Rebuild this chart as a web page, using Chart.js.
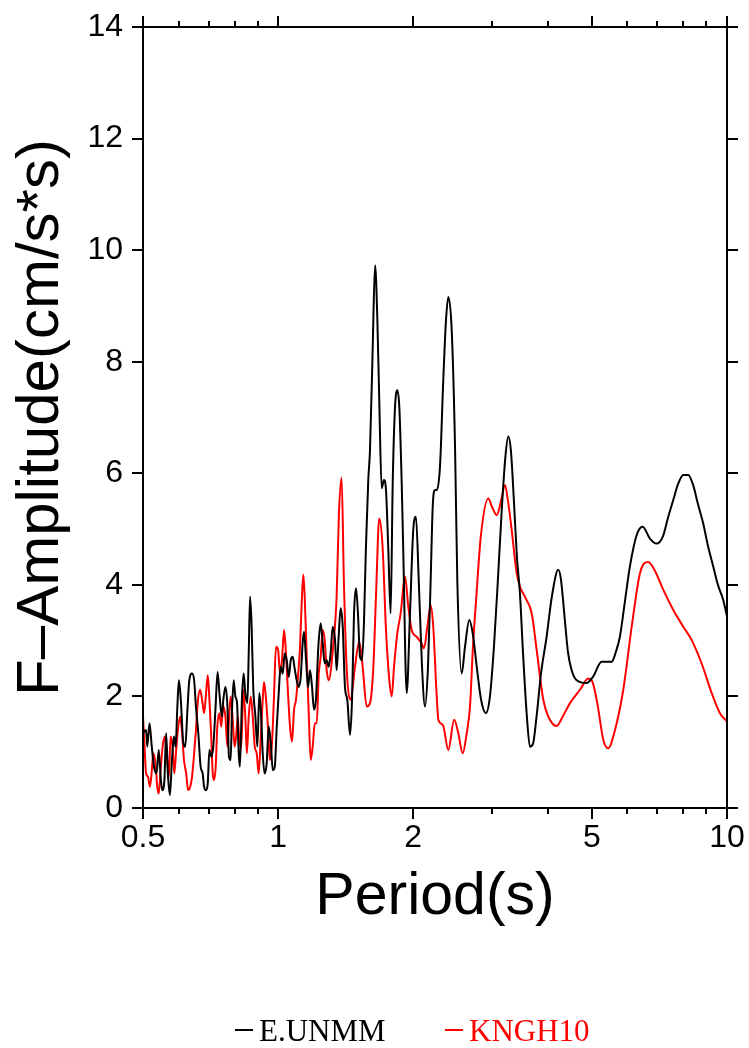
<!DOCTYPE html>
<html>
<head>
<meta charset="utf-8">
<script src="https://cdn.jsdelivr.net/npm/chart.js@4"></script>
<style>
  body { margin: 0; background: #fff; }
  #wrap { position: relative; width: 749px; height: 1048px; }
  #chart { position: absolute; left: 0; top: 0; }
  .leg { position: absolute; top: 1015px; font: 31px/1 "Liberation Serif", serif; white-space: nowrap; }
  .mk { display: inline-block; width: 18px; height: 2px; background: currentColor; vertical-align: 10px; margin-right: 6px; }
</style>
</head>
<body>
<div id="wrap">
  <canvas id="chart" width="749" height="1048"></canvas>
  <span class="leg" style="left:235px;color:#000"><span class="mk"></span>E.UNMM</span>
  <span class="leg" style="left:445px;color:#ff0000"><span class="mk"></span>KNGH10</span>
</div>
<script>
// E.UNMM (black) - period (s) and Fourier amplitude (cm/s*s)
const unmmPeriod = [
  0.500, 0.508, 0.511, 0.517, 0.523, 0.529, 0.536, 0.542, 0.548, 0.552,
  0.558, 0.563, 0.568, 0.574, 0.580, 0.586, 0.591, 0.596, 0.601, 0.607,
  0.615, 0.621, 0.628, 0.634, 0.643, 0.650, 0.656, 0.664, 0.672, 0.679,
  0.684, 0.691, 0.697, 0.703, 0.710, 0.717, 0.725, 0.733, 0.740, 0.749,
  0.755, 0.763, 0.771, 0.777, 0.784, 0.789, 0.796, 0.803, 0.810, 0.817,
  0.822, 0.831, 0.838, 0.845, 0.854, 0.860, 0.866, 0.873, 0.880, 0.890,
  0.899, 0.908, 0.916, 0.924, 0.933, 0.943, 0.953, 0.963, 0.973, 0.983,
  0.993, 1.003, 1.013, 1.024, 1.034, 1.045, 1.056, 1.067, 1.078, 1.087,
  1.100, 1.111, 1.123, 1.134, 1.142, 1.154, 1.166, 1.178, 1.190, 1.202,
  1.214, 1.229, 1.244, 1.257, 1.270, 1.283, 1.296,
  1.309, 1.323, 1.339, 1.350, 1.364, 1.378, 1.393, 1.409, 1.426, 1.446,
  1.461, 1.476, 1.491, 1.506, 1.522, 1.538, 1.553, 1.569, 1.588, 1.602,
  1.624, 1.644, 1.663, 1.680, 1.701, 1.721, 1.739, 1.760, 1.781, 1.800,
  1.821, 1.843, 1.862, 1.885, 1.900, 1.934, 1.967, 2.000, 2.028, 2.057,
  2.092, 2.124, 2.157, 2.187, 2.210, 2.236, 2.256, 2.294, 2.333, 2.366,
  2.394, 2.436, 2.478, 2.507, 2.564, 2.608, 2.666, 2.717, 2.773, 2.831,
  2.904, 2.964, 3.026, 3.088, 3.152, 3.209, 3.256, 3.301, 3.352, 3.404,
  3.457, 3.511, 3.578, 3.639, 3.696, 3.772, 3.850, 3.964, 4.074, 4.208,
  4.266, 4.355, 4.422, 4.507, 4.624, 4.867, 5.027, 5.256, 5.533, 5.656,
  5.773, 5.923, 6.077, 6.290, 6.487, 6.734, 6.970, 7.199, 7.386, 7.590,
  7.775, 7.989, 8.197, 8.397, 8.615, 8.852, 9.068, 9.318, 9.545, 9.808,
  10.0
];
const unmmAmp = [
  1.34, 1.40, 1.10, 1.52, 1.10, 0.74, 0.62, 1.04, 0.50, 0.32,
  0.50, 1.34, 0.62, 0.23, 0.86, 1.28, 1.10, 1.76, 2.29, 1.94,
  1.16, 1.10, 1.76, 2.29, 2.41, 2.29, 1.82, 1.34, 0.74, 0.62,
  0.38, 0.32, 0.44, 1.04, 0.92, 1.10, 1.76, 2.44, 2.06, 1.64,
  1.94, 2.17, 1.82, 0.92, 0.86, 1.70, 2.29, 2.00, 1.88, 0.98,
  0.74, 2.00, 2.41, 2.06, 1.88, 2.77, 3.79, 3.25, 2.17, 1.64,
  1.10, 2.06, 1.70, 0.98, 0.62, 0.80, 1.46, 1.16, 0.68, 0.74,
  1.46, 2.06, 2.53, 2.41, 2.77, 2.65, 2.35, 2.65, 2.71, 2.53,
  2.29, 2.17, 2.35, 2.95, 3.16, 2.65, 2.17, 2.47, 2.17, 1.76,
  1.94, 2.89, 3.31, 2.95, 2.59, 2.65, 2.53,
  2.77, 3.25, 3.01, 2.47, 3.07, 3.58, 3.25, 2.17, 1.94, 1.31,
  1.94, 3.49, 3.94, 3.49, 2.71, 2.65, 3.31, 4.68, 5.88, 6.42,
  8.21, 9.73, 8.81, 7.31, 5.73, 5.88, 5.70, 4.62, 3.49, 5.82,
  7.17, 7.49, 7.19, 5.82, 4.62, 2.06, 3.49, 4.98, 5.22, 4.09,
  2.53, 1.82, 2.53, 4.09, 5.40, 5.70, 5.70, 6.12, 7.67, 8.75,
  9.16, 8.57, 6.48, 4.09, 2.41, 2.89, 3.37, 3.10, 2.50, 1.95,
  1.70, 2.00, 2.90, 4.10, 5.40, 6.30, 6.66, 6.40, 5.50, 4.50,
  3.85, 2.80, 1.70, 1.10, 1.15, 1.70, 2.40, 3.07, 3.80, 4.27,
  4.10, 3.35, 2.80, 2.47, 2.29, 2.24, 2.35, 2.62, 2.62, 2.80,
  3.07, 3.70, 4.33, 4.89, 5.04, 4.83, 4.74, 4.87, 5.20, 5.52,
  5.80, 5.97, 5.97, 5.80, 5.45, 5.10, 4.70, 4.33, 4.00, 3.73,
  3.43
];

// KNGH10 (red)
const knghPeriod = [
  0.500, 0.504, 0.508, 0.513, 0.518, 0.524, 0.527, 0.533, 0.538, 0.542,
  0.548, 0.553, 0.559, 0.565, 0.571, 0.576, 0.582, 0.587, 0.592, 0.598,
  0.605, 0.611, 0.617, 0.624, 0.630, 0.637, 0.643, 0.650, 0.656, 0.663,
  0.670, 0.677, 0.684, 0.691, 0.697, 0.703, 0.709, 0.715, 0.720, 0.726,
  0.732, 0.740, 0.747, 0.755, 0.763, 0.771, 0.777, 0.784, 0.792, 0.800,
  0.806, 0.813, 0.819, 0.828, 0.836, 0.845, 0.852, 0.860, 0.869, 0.878,
  0.887, 0.896, 0.905, 0.915, 0.924, 0.930, 0.940, 0.949, 0.959, 0.969,
  0.979, 0.989, 1.000, 1.010, 1.020, 1.031, 1.041, 1.052, 1.063, 1.074,
  1.085, 1.096, 1.107, 1.119, 1.130, 1.138, 1.146, 1.158, 1.170, 1.182,
  1.194, 1.207, 1.219, 1.232, 1.244, 1.257, 1.270, 1.283, 1.296,
  1.326, 1.350, 1.366, 1.385, 1.401, 1.421, 1.451, 1.483, 1.516, 1.543,
  1.575, 1.602, 1.630, 1.652, 1.680, 1.709, 1.739, 1.769, 1.791, 1.812,
  1.843, 1.875, 1.917, 1.950, 1.984, 2.035, 2.088, 2.113, 2.150, 2.187,
  2.216, 2.256, 2.275, 2.328, 2.394, 2.467, 2.520, 2.577, 2.631, 2.676,
  2.717, 2.759, 2.831, 2.939, 2.995, 3.069, 3.137, 3.202, 3.252, 3.314,
  3.400, 3.457, 3.566, 3.672, 3.767, 3.897, 3.998, 4.174, 4.312, 4.469,
  4.704, 4.909, 5.003, 5.141, 5.302, 5.439, 5.630, 5.874, 6.133, 6.400,
  6.678, 6.912, 7.212, 7.592, 7.991, 8.343, 8.782, 9.245, 9.647, 10.0
];
const knghAmp = [
  1.64, 1.10, 0.62, 0.56, 0.38, 0.74, 0.98, 0.80, 0.38, 0.26,
  0.74, 1.10, 1.28, 0.98, 0.56, 1.28, 1.10, 0.62, 0.98, 1.40,
  1.64, 1.34, 0.86, 0.62, 0.32, 0.38, 0.56, 0.98, 1.40, 1.94,
  2.12, 1.94, 1.70, 2.06, 2.38, 1.94, 1.34, 0.62, 0.50, 0.74,
  1.46, 1.70, 1.46, 1.82, 1.64, 1.10, 1.58, 2.00, 1.58, 1.10,
  1.28, 1.64, 1.22, 1.10, 2.12, 1.64, 0.98, 1.64, 2.00, 1.64,
  1.10, 0.98, 0.62, 1.28, 1.94, 2.26, 1.94, 1.46, 0.86, 1.16,
  2.00, 2.89, 2.83, 2.41, 2.65, 3.19, 2.77, 2.06, 1.46, 1.19,
  1.76, 1.94, 2.35, 2.89, 3.79, 4.18, 3.79, 2.71, 1.70, 0.86,
  1.10, 1.52, 1.52, 2.41, 2.71, 3.19, 3.01, 2.47, 2.29,
  2.89, 3.79, 5.28, 5.92, 4.09, 2.53, 1.94, 2.53, 2.98, 2.53,
  1.82, 1.88, 2.53, 3.79, 5.19, 4.68, 3.19, 2.29, 2.00, 2.53,
  3.13, 3.49, 4.15, 3.61, 3.19, 3.07, 2.95, 2.86, 3.25, 3.64,
  3.25, 2.00, 1.58, 1.49, 1.04, 1.58, 1.34, 0.98, 1.34, 1.82,
  2.90, 3.70, 4.90, 5.55, 5.40, 5.25, 5.50, 5.79, 5.50, 4.98,
  4.21, 3.97, 3.75, 3.49, 2.83, 1.94, 1.64, 1.47, 1.65, 1.88,
  2.12, 2.32, 2.28, 1.88, 1.22, 1.07, 1.40, 2.12, 3.25, 4.21,
  4.41, 4.25, 3.91, 3.55, 3.25, 3.01, 2.59, 2.06, 1.70, 1.55
];

// axis ticks
const xTickValues = [0.5, 0.6, 0.7, 0.8, 0.9, 1, 2, 3, 4, 5, 6, 7, 8, 9, 10];
const xLabelValues = [0.5, 1, 2, 5, 10];
const yTickValues = [0, 2, 4, 6, 8, 10, 12, 14];

const toPoints = (xs, ys) => xs.map((x, i) => ({ x: x, y: ys[i] }));

// frame box with outward ticks on all four sides
const frameTicks = {
  id: 'frameTicks',
  afterDraw(chart) {
    const { ctx, chartArea: a, scales: { x, y } } = chart;
    ctx.save();
    ctx.strokeStyle = '#000';
    ctx.lineWidth = 2;
    ctx.strokeRect(a.left, a.top, a.right - a.left, a.bottom - a.top);
    ctx.beginPath();
    xTickValues.forEach(v => {
      const px = Math.round(x.getPixelForValue(v));
      const len = xLabelValues.includes(v) ? 11 : 6;
      ctx.moveTo(px, a.bottom); ctx.lineTo(px, a.bottom + len);
      ctx.moveTo(px, a.top); ctx.lineTo(px, a.top - len);
    });
    yTickValues.forEach(v => {
      const py = Math.round(y.getPixelForValue(v));
      ctx.moveTo(a.left, py); ctx.lineTo(a.left - 11, py);
      ctx.moveTo(a.right, py); ctx.lineTo(a.right + 11, py);
    });
    ctx.stroke();
    ctx.restore();
  }
};

Chart.defaults.color = '#000';
Chart.defaults.font.family = '"Liberation Sans", Arial, sans-serif';

new Chart(document.getElementById('chart'), {
  type: 'line',
  data: {
    datasets: [
      {
        label: 'E.UNMM',
        data: toPoints(unmmPeriod, unmmAmp),
        borderColor: '#000000',
        borderWidth: 2,
        pointRadius: 0,
        cubicInterpolationMode: 'monotone'
      },
      {
        label: 'KNGH10',
        data: toPoints(knghPeriod, knghAmp),
        borderColor: '#ff0000',
        borderWidth: 2,
        pointRadius: 0,
        cubicInterpolationMode: 'monotone'
      }
    ]
  },
  options: {
    responsive: false,
    animation: false,
    devicePixelRatio: 1,
    layout: { padding: { left: 0, right: 22, top: 27, bottom: 100 } },
    plugins: { legend: { display: false }, tooltip: { enabled: false } },
    scales: {
      x: {
        type: 'logarithmic',
        min: 0.5,
        max: 10,
        grid: { display: false, drawTicks: false },
        border: { display: false },
        afterBuildTicks: (scale) => { scale.ticks = xTickValues.map(v => ({ value: v })); },
        afterFit: (scale) => {
          scale.height = 140;
          // labels may overhang the plot box; keep the layout padding as is
          scale.paddingLeft = 0;
          scale.paddingRight = 0;
        },
        ticks: {
          autoSkip: false,
          maxRotation: 0,
          padding: 11,
          font: { size: 32 },
          callback: (v) => xLabelValues.includes(v) ? String(v) : ''
        },
        title: {
          display: true,
          text: 'Period(s)',
          font: { size: 59, lineHeight: 1 },
          padding: { top: 0, bottom: 21 }
        }
      },
      y: {
        min: 0,
        max: 14,
        grid: { display: false, drawTicks: false },
        border: { display: false },
        afterFit: (scale) => {
          scale.width = 143;
          scale.paddingTop = 0;
          scale.paddingBottom = 0;
        },
        ticks: { stepSize: 2, padding: 20, font: { size: 32 } },
        title: {
          display: true,
          text: 'F\u2013Amplitude(cm/s*s)',
          font: { size: 60, lineHeight: 1 },
          padding: { top: 11, bottom: 0 }
        }
      }
    }
  },
  plugins: [frameTicks]
});
</script>
</body>
</html>
